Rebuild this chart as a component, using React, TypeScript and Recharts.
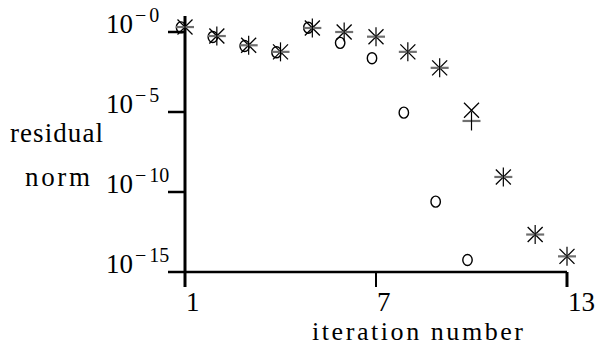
import React from "react";
import { ScatterChart, Scatter, XAxis, YAxis } from "recharts";

// iteration numbers and residual norms
const iterations = [1, 2, 3, 4, 5, 6, 7, 8, 9, 10, 11, 12, 13];
const circleNorms = [1.95, 0.49, 0.133, 0.054, 1.86, 0.21, 0.023, 9.1e-6, 2.5e-11, 5.6e-15];
const crossNorms = [2.04, 0.56, 0.148, 0.0575, 1.78, 1.0, 0.51, 0.0575, 5.75e-3, 1.29e-5, 8.7e-10, 2.2e-13, 9.5e-15];
const plusNorms = [2.04, 0.56, 0.148, 0.0575, 1.78, 1.0, 0.51, 0.0575, 5.75e-3, 2.75e-6, 8.7e-10, 2.2e-13, 9.5e-15];
const xTicks = [1, 7, 13];
const yTicks = [1, 1e-5, 1e-10, 1e-15];

const circleData = circleNorms.map((y, i) => ({ x: iterations[i], y }));
const crossData = crossNorms.map((y, i) => ({ x: iterations[i], y }));
const plusData = plusNorms.map((y, i) => ({ x: iterations[i], y }));

const FONT = "'Liberation Serif', 'Times New Roman', serif";

const CircleMark = (props: any) => {
  const { cx, cy } = props;
  return <ellipse cx={cx - 4} cy={cy} rx={4.7} ry={5.5} fill="none" stroke="#000" strokeWidth={1.4} />;
};

const CrossMark = (props: any) => {
  const { cx, cy } = props;
  const s = 7.5;
  return (
    <g stroke="#000" strokeWidth={1.3}>
      <line x1={cx - s} y1={cy - s} x2={cx + s} y2={cy + s} />
      <line x1={cx - s} y1={cy + s} x2={cx + s} y2={cy - s} />
    </g>
  );
};

const PlusMark = (props: any) => {
  const { cx, cy } = props;
  return (
    <g>
      <line x1={cx - 9} y1={cy} x2={cx + 9} y2={cy} stroke="#707070" strokeWidth={2.2} />
      <line x1={cx} y1={cy - 9.5} x2={cx} y2={cy + 9.5} stroke="#000" strokeWidth={1.2} />
    </g>
  );
};

const YTick = (props: any) => {
  const { x, y, payload } = props;
  const exp = Math.round(-Math.log10(payload.value));
  return (
    <g>
      <line x1={x - 17} y1={y} x2={x} y2={y} stroke="#000" strokeWidth={2.5} />
      <text x={x - 79} y={y + 1} fontFamily={FONT} fontSize={27} fill="#000">
        10
        <tspan dx={2} dy={-11} fontSize={20}>
          {"\u2212"}
        </tspan>
        <tspan dx={3} fontSize={20}>
          {exp}
        </tspan>
      </text>
    </g>
  );
};

const XTick = (props: any) => {
  const { x, y, payload } = props;
  const v = payload.value;
  return (
    <g>
      <line x1={x} y1={y} x2={x} y2={y + 15} stroke="#000" strokeWidth={v === 7 ? 2 : 3} />
      <text x={x + 1} y={y + 39} fontFamily={FONT} fontSize={27} fill="#000">
        {v}
      </text>
    </g>
  );
};

const YLabel = () => (
  <g fontFamily={FONT} fontSize={27} fill="#000">
    <text x={10} y={142} textLength={93} lengthAdjust="spacing">
      residual
    </text>
    <text x={25} y={186} textLength={65} lengthAdjust="spacing">
      norm
    </text>
  </g>
);

const XLabel = () => (
  <text x={312} y={340} fontFamily={FONT} fontSize={26} fill="#000" textLength={211} lengthAdjust="spacing">
    iteration number
  </text>
);

export default function App() {
  return (
    <div style={{ position: "absolute", left: 0, top: 0, background: "#fff" }}>
      <ScatterChart width={597} height={345} margin={{ top: 16, right: 30, bottom: 33, left: 105 }}>
        <XAxis
          type="number"
          dataKey="x"
          domain={[1, 13]}
          ticks={xTicks}
          interval={0}
          tickSize={0}
          tickMargin={0}
          tickLine={false}
          tick={<XTick />}
          axisLine={{ stroke: "#000", strokeWidth: 2.5 }}
          height={40}
          label={<XLabel />}
        />
        <YAxis
          type="number"
          dataKey="y"
          scale="log"
          domain={[1e-15, 10]}
          allowDataOverflow
          ticks={yTicks}
          interval={0}
          tickSize={0}
          tickMargin={0}
          tickLine={false}
          tick={<YTick />}
          axisLine={{ stroke: "#000", strokeWidth: 3 }}
          width={80}
          label={<YLabel />}
        />
        <Scatter data={circleData} shape={<CircleMark />} isAnimationActive={false} />
        <Scatter data={crossData} shape={<CrossMark />} isAnimationActive={false} />
        <Scatter data={plusData} shape={<PlusMark />} isAnimationActive={false} />
      </ScatterChart>
    </div>
  );
}
